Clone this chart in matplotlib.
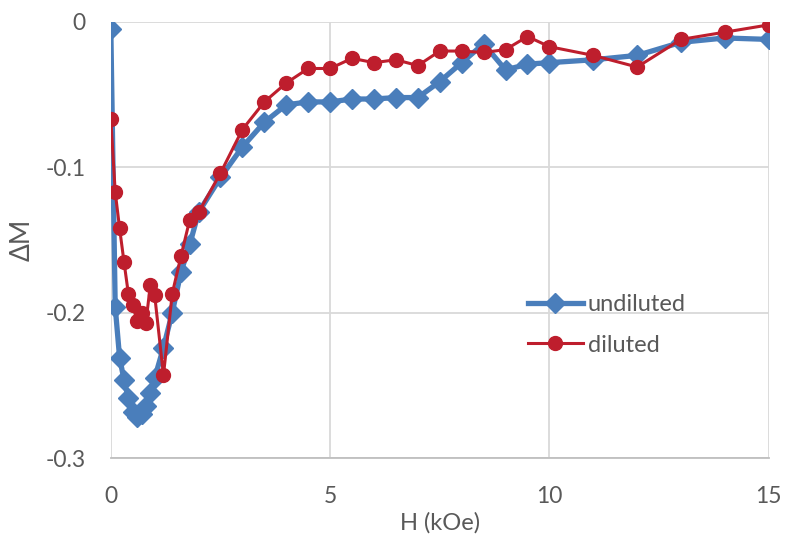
import numpy as np
import matplotlib
matplotlib.use("Agg")
import matplotlib.pyplot as plt

# undiluted series
h_und = [0.0, 0.1, 0.2, 0.3, 0.4, 0.5, 0.6, 0.7, 0.8, 0.9, 1.0, 1.2, 1.4, 1.6, 1.8, 2.0,
         2.5, 3.0, 3.5, 4.0, 4.5, 5.0, 5.5, 6.0, 6.5, 7.0, 7.5, 8.0, 8.5, 9.0, 9.5, 10.0,
         11.0, 12.0, 13.0, 14.0, 15.0]
dm_und = [-0.005, -0.196, -0.231, -0.246, -0.259, -0.268, -0.272, -0.270, -0.264, -0.255, -0.245,
          -0.224, -0.200, -0.172, -0.153, -0.131, -0.107, -0.086, -0.069, -0.057, -0.055,
          -0.055, -0.053, -0.053, -0.052, -0.052, -0.041, -0.028, -0.015, -0.033, -0.029,
          -0.028, -0.026, -0.023, -0.014, -0.011, -0.012]

# diluted series
h_dil = [0.0, 0.1, 0.2, 0.3, 0.4, 0.5, 0.6, 0.7, 0.8, 0.9, 1.0, 1.2, 1.4, 1.6, 1.8, 2.0,
         2.5, 3.0, 3.5, 4.0, 4.5, 5.0, 5.5, 6.0, 6.5, 7.0, 7.5, 8.0, 8.5, 9.0, 9.5, 10.0,
         11.0, 12.0, 13.0, 14.0, 15.0]
dm_dil = [-0.067, -0.117, -0.142, -0.165, -0.187, -0.195, -0.206, -0.200, -0.207, -0.181, -0.188,
          -0.243, -0.187, -0.161, -0.136, -0.131, -0.104, -0.074, -0.055, -0.042, -0.032,
          -0.032, -0.025, -0.028, -0.026, -0.030, -0.020, -0.020, -0.021, -0.019, -0.010,
          -0.017, -0.023, -0.031, -0.012, -0.007, -0.002]

plt.rcParams['font.family'] = ['Lato', 'DejaVu Sans']
txt = '#595959'
grid = '#d9d9d9'

fig = plt.figure(figsize=(7.86, 5.36), dpi=100)
ax = fig.add_axes([0.141, 0.1455, 0.837, 0.8135])

ax.plot(h_und, dm_und, color='#4a7ebb', lw=3.8, marker='D', ms=10, label='undiluted', zorder=3)
ax.plot(h_dil, dm_dil, color='#be1e2d', lw=2.2, marker='o', ms=10, label='diluted', zorder=4)

ax.set_xlim(0, 15)
ax.set_ylim(-0.3, 0)
ax.set_xticks([0, 5, 10, 15])
ax.set_yticks([0, -0.1, -0.2, -0.3])
ax.set_yticklabels(['0', '-0.1', '-0.2', '-0.3'])
ax.grid(True, color=grid, lw=1.3)
ax.set_axisbelow(True)
for s in ['top', 'right', 'left']:
    ax.spines[s].set_visible(False)
ax.spines['bottom'].set_color('#bfbfbf')
ax.spines['bottom'].set_linewidth(1.3)
ax.tick_params(length=0, labelsize=16.5, colors=txt)
ax.tick_params(axis='x', pad=20)
ax.tick_params(axis='y', pad=18)

ax.set_xlabel('H (kOe)', fontsize=17, color=txt, labelpad=4)
ax.set_ylabel('ΔM', fontsize=19, color=txt, labelpad=8)

ax.legend(loc='center left', bbox_to_anchor=(0.634, 0.305), frameon=False, fontsize=17,
          labelcolor=txt, handlelength=2.33, handletextpad=0.21, labelspacing=0.82,
          borderpad=0, borderaxespad=0)

fig.savefig('out.png', dpi=100)
